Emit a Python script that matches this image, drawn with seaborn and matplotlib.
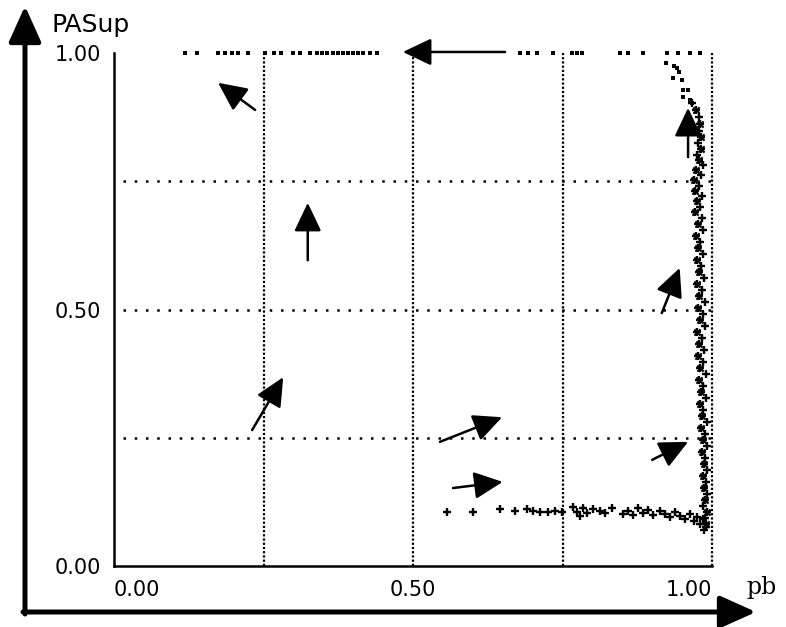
import numpy as np
import pandas as pd
import seaborn as sns
import matplotlib
matplotlib.use("Agg")
import matplotlib.pyplot as plt

# trajectory along PASup = 1
top_pb = [0.119, 0.139, 0.174, 0.186, 0.197, 0.207, 0.224, 0.252, 0.268, 0.280,
          0.299, 0.311, 0.328, 0.339, 0.348, 0.356, 0.366, 0.375, 0.383, 0.391,
          0.400, 0.408, 0.416, 0.428, 0.440, 0.679, 0.692, 0.707, 0.734, 0.766,
          0.774, 0.783, 0.846, 0.860, 0.885, 0.925, 0.943, 0.963, 0.980]
top_pasup = [1.0] * len(top_pb)

# bend at the top right corner
bend_pb = [0.923, 0.936, 0.941, 0.945, 0.934, 0.950, 0.952, 0.960, 0.952, 0.963, 0.967]
bend_pasup = [0.980, 0.975, 0.971, 0.963, 0.951, 0.947, 0.928, 0.928, 0.914, 0.908, 0.903]

# vertical band near pb = 1
band_pb = [0.967, 0.973, 0.978, 0.980, 0.978, 0.982, 0.977, 0.982, 0.975, 0.978,
           0.985, 0.973, 0.982, 0.970, 0.978, 0.972, 0.983, 0.975, 0.980, 0.972,
           0.983, 0.977, 0.985, 0.973, 0.980, 0.977, 0.985, 0.975, 0.982, 0.978,
           0.987, 0.975, 0.983, 0.978, 0.988, 0.977, 0.985, 0.980, 0.988, 0.975,
           0.983, 0.978, 0.987, 0.977, 0.985, 0.980, 0.990, 0.978, 0.985, 0.982,
           0.990, 0.980, 0.985, 0.983, 0.992, 0.982, 0.988, 0.985, 0.992, 0.983,
           0.988, 0.987, 0.992, 0.985, 0.990, 0.987, 0.992, 0.988, 0.985, 0.992,
           0.988, 0.990, 0.987]
band_pasup = [0.903, 0.889, 0.875, 0.862, 0.848, 0.836, 0.825, 0.813, 0.801, 0.791,
              0.782, 0.772, 0.762, 0.752, 0.741, 0.731, 0.721, 0.712, 0.700, 0.690,
              0.678, 0.667, 0.655, 0.643, 0.632, 0.620, 0.608, 0.597, 0.585, 0.573,
              0.561, 0.550, 0.538, 0.526, 0.515, 0.503, 0.491, 0.480, 0.468, 0.456,
              0.444, 0.433, 0.421, 0.409, 0.398, 0.386, 0.374, 0.363, 0.351, 0.339,
              0.328, 0.316, 0.304, 0.292, 0.281, 0.269, 0.257, 0.246, 0.234, 0.222,
              0.211, 0.199, 0.187, 0.175, 0.164, 0.152, 0.140, 0.129, 0.117, 0.105,
              0.094, 0.082, 0.070]

# trajectory along PASup ~ 0.1
low_pb = [0.557, 0.600, 0.645, 0.671, 0.691, 0.701, 0.712, 0.726, 0.737, 0.749,
          0.768, 0.774, 0.779, 0.784, 0.791, 0.801, 0.813, 0.821, 0.833, 0.851,
          0.860, 0.868, 0.876, 0.885, 0.893, 0.901, 0.913, 0.921, 0.930, 0.938,
          0.946, 0.955, 0.963, 0.970, 0.975, 0.980, 0.985, 0.990]
low_pasup = [0.105, 0.105, 0.111, 0.107, 0.111, 0.107, 0.105, 0.105, 0.107, 0.105,
             0.115, 0.105, 0.097, 0.113, 0.103, 0.111, 0.107, 0.103, 0.113, 0.101,
             0.107, 0.099, 0.113, 0.103, 0.109, 0.099, 0.107, 0.101, 0.095, 0.105,
             0.097, 0.092, 0.101, 0.088, 0.095, 0.082, 0.092, 0.076]

# direction field arrows (tail -> tip)
arrow_tail_pb = [0.236, 0.324, 0.231, 0.654, 0.545, 0.567, 0.900, 0.916, 0.960]
arrow_tail_pasup = [0.889, 0.596, 0.265, 1.002, 0.242, 0.152, 0.207, 0.493, 0.797]
arrow_tip_pb = [0.174, 0.324, 0.283, 0.483, 0.649, 0.650, 0.960, 0.946, 0.960]
arrow_tip_pasup = [0.942, 0.708, 0.368, 1.002, 0.290, 0.164, 0.242, 0.581, 0.893]

tick_vals = [0.0, 0.25, 0.5, 0.75, 1.0]
tick_labels = ["0.00", "", "0.50", "", "1.00"]

sns.set_theme(style="white")
plt.rcParams["font.family"] = ["DejaVu Sans"]
plt.rcParams["text.color"] = "black"

fig = plt.figure(figsize=(7.86, 6.27), dpi=100)
ax = fig.add_axes([114 / 786, 1 - 566 / 627, 598 / 786, 513 / 627])
ax.set_xlim(0, 1)
ax.set_ylim(0, 1)

# dotted grid: dense vertical, sparse horizontal
for gx in [0.25, 0.5, 0.75, 1.0]:
    ax.axvline(gx, 0, 1, color="black", lw=1.6, linestyle=(0, (1, 0.9)), zorder=1, clip_on=False)
for gy in [0.25, 0.5, 0.75]:
    ax.axhline(gy, 0.015, 1, color="black", lw=1.8, linestyle=(0, (1, 3.5)), zorder=1)

sns.scatterplot(x=top_pb, y=top_pasup, marker="s", s=9, color="black",
                linewidth=0, ax=ax, clip_on=False, zorder=3)
sns.scatterplot(x=bend_pb, y=bend_pasup, marker="s", s=12, color="black",
                linewidth=0, ax=ax, clip_on=False, zorder=3)
sns.scatterplot(x=band_pb, y=band_pasup, marker="+", s=34, color="black",
                linewidth=1.7, ax=ax, clip_on=False, zorder=3)
sns.scatterplot(x=band_pb[1::2], y=band_pasup[1::2], marker="x", s=20, color="black",
                linewidth=1.5, ax=ax, clip_on=False, zorder=3)
sns.scatterplot(x=low_pb, y=low_pasup, marker="+", s=34, color="black",
                linewidth=1.7, ax=ax, clip_on=False, zorder=3)

for tx, ty, hx, hy in zip(arrow_tail_pb, arrow_tail_pasup, arrow_tip_pb, arrow_tip_pasup):
    ax.annotate("", xy=(hx, hy), xytext=(tx, ty),
                arrowprops=dict(arrowstyle="-|>,head_length=0.8,head_width=0.38",
                                color="black", lw=1.8, shrinkA=0, shrinkB=0,
                                mutation_scale=22),
                annotation_clip=False, zorder=4)

ax.set_xticks(tick_vals)
ax.set_yticks(tick_vals)
ax.set_xticklabels(tick_labels)
ax.set_yticklabels(tick_labels)
ax.tick_params(axis="both", direction="out", length=7, width=1.6, color="black",
               labelsize=15, labelcolor="black")
ax.tick_params(axis="y", pad=2)
ax.tick_params(axis="x", pad=3)
xl = ax.get_xticklabels()
xl[0].set_horizontalalignment("left")
xl[-1].set_horizontalalignment("right")

sns.despine(ax=ax, top=True, right=True)
for side in ["left", "bottom"]:
    ax.spines[side].set_color("black")
    ax.spines[side].set_linewidth(1.8)
ax.set_facecolor("white")

# big outer axes arrows
ax.annotate("", xy=(25, 621), xytext=(25, 13), xycoords="figure pixels",
            textcoords="figure pixels",
            arrowprops=dict(arrowstyle="-|>,head_length=1.0,head_width=0.45",
                            color="black", lw=3.6, shrinkA=0, shrinkB=0,
                            mutation_scale=22),
            annotation_clip=False)
ax.annotate("", xy=(756, 15), xytext=(23, 15), xycoords="figure pixels",
            textcoords="figure pixels",
            arrowprops=dict(arrowstyle="-|>,head_length=1.0,head_width=0.45",
                            color="black", lw=3.6, shrinkA=0, shrinkB=0,
                            mutation_scale=22),
            annotation_clip=False)

fig.text(52 / 786, 1 - 32 / 627, "PASup", fontsize=18, va="baseline", ha="left",
         color="black")
fig.text(746 / 786, 1 - 594 / 627, "pb", fontsize=17, va="baseline", ha="left",
         family="DejaVu Serif", color="black")

fig.savefig("out.png", dpi=100)
